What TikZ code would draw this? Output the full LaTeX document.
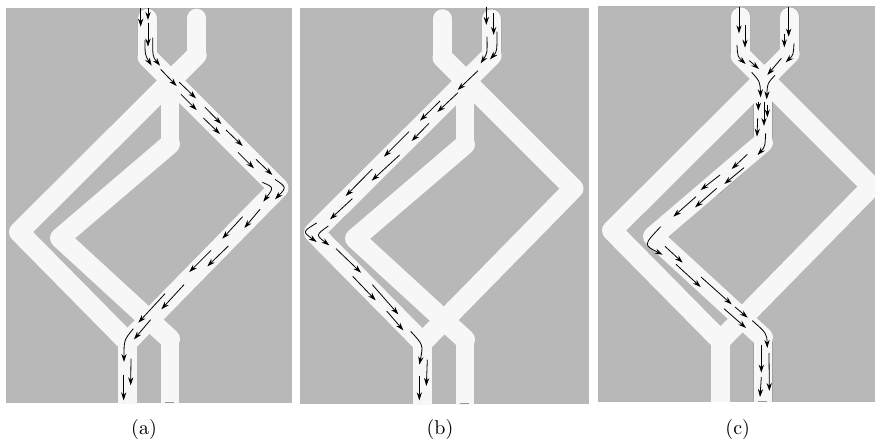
\documentclass[tikz,border=0pt]{standalone}
\usetikzlibrary{arrows.meta}
\definecolor{panelgray}{HTML}{B8B8B8}
\definecolor{channel}{HTML}{F7F7F7}
\tikzset{
  panel/.style={fill=panelgray,draw=none},
  chan/.style={draw=channel,line width=20pt,line join=round,line cap=round},
  stem/.style={draw=channel,line width=18.5pt,line cap=round},
  rim/.style={draw=black!42,line width=19.3pt,line join=round,line cap=round},
  flow/.style={black,line width=0.8pt,-{Stealth[length=8pt,width=5.2pt]}},
  zoomed/.style={x=0.33333pt,y=-0.33333pt},
  captext/.style={scale=2,inner sep=0pt},
  basegrid/.style={x=1pt,y=-1pt},
  tick/.style={draw=black!40,line width=0.7pt}
}
\newcommand{\network}{%
  \draw[stem] (147.5,18)--(147.5,57);
  \draw[stem] (196.7,18)--(196.7,55);
  \draw[stem] (127.5,342)--(127.5,425);
  \draw[stem] (170,80)--(170,144);
  \draw[stem] (170,339)--(170,425);
  \draw[chan] (147.5,57)--(278.5,188)--(127.5,342);
  \draw[chan] (196.7,55)--(19,232)--(127.5,342);
  \draw[chan] (170,144)--(60,238)--(170,339);
}
\begin{document}
\begin{tikzpicture}[basegrid]
\useasboundingbox (0,0) rectangle (878,447);
% panel a
\fill[panel] (6,8) rectangle (292,403);
\begin{scope}
  \clip (6,8) rectangle (292,403);
  \draw[rim] (147.5,18)--(147.5,57)--(168,77);
  \network
  \draw[tick] (165,402.4)--(174,402.4);
\end{scope}
\begin{scope}[zoomed]
\draw[flow] (422,24)--(422,80);
\draw[flow] (444,24)--(444,60);
\draw[flow] (444,68)--(444,140);
\draw[flow] (435,120) .. controls (435,165) .. (455,197);
\draw[flow] (458,113) .. controls (458,170) .. (480,197);
\draw[flow] (482,208)--(530,258);
\draw[flow] (538,247)--(588,295);
\draw[flow] (543,283)--(590,330);
\draw[flow] (615,322)--(664,372);
\draw[flow] (610,354)--(660,402);
\draw[flow] (678,390)--(728,438);
\draw[flow] (714,457)--(762,505);
\draw[flow] (768,478)--(817,525);
\draw[flow] (787,547) .. controls (822,562) .. (790,605);
\draw[flow] (825,538) .. controls (860,562) .. (825,598);
\draw[flow] (780,628)--(733,684);
\draw[flow] (728,650)--(667,716);
\draw[flow] (633,751)--(568,816);
\draw[flow] (685,738)--(622,799);
\draw[flow] (552,854)--(484,928);
\draw[flow] (495,881)--(415,968);
\draw[flow] (452,959)--(402,1018);
\draw[flow] (400,986) .. controls (372,1020) .. (372,1086);
\draw[flow] (393,1076)--(392,1156);
\draw[flow] (371,1124)--(371,1201);
\end{scope}
\node[captext] (capa) at (144,429) {(a)};
% panel b
\fill[panel] (300,8) rectangle (589,404);
\begin{scope}[shift={(295pt,-0.5pt)}]
  \clip (5,7.5) rectangle (294,403.5);
  \draw[rim] (196.7,18)--(196.7,55)--(176,76);
  \network
  \draw[tick] (165,402.9)--(174,402.9);
\end{scope}
\begin{scope}[zoomed,shift={(295pt,0pt)}]
\draw[flow] (574,20)--(574,75);
\draw[flow] (596,40)--(596,105);
\draw[flow] (576,110) .. controls (577,160) .. (557,190);
\draw[flow] (606,95) .. controls (606,155) .. (585,178);
\draw[flow] (549,212)--(488,270);
\draw[flow] (489,278)--(427,336);
\draw[flow] (435,303)--(375,362);
\draw[flow] (402,370)--(350,423);
\draw[flow] (342,395)--(267,470);
\draw[flow] (314,465)--(230,542);
\draw[flow] (232,507)--(152,588);
\draw[flow] (172,596)--(105,658);
\draw[flow] (65,669) .. controls (22,695) .. (65,726);
\draw[flow] (100,678) .. controls (62,705) .. (103,736);
\draw[flow] (123,746)--(198,818);
\draw[flow] (173,829)--(242,901);
\draw[flow] (232,854)--(310,943);
\draw[flow] (275,933)--(325,991);
\draw[flow] (347,994) .. controls (385,1035) .. (373,1094);
\draw[flow] (397,1079)--(394,1158);
\draw[flow] (373,1128)--(373,1201);
\end{scope}
\node[captext] (capb) at (440,429) {(b)};
% panel c
\fill[panel] (598,6) rectangle (875,401.5);
\begin{scope}[shift={(593pt,1.5pt)}]
  \clip (5,7.5) rectangle (282,403);
  \draw[rim] (147.5,18)--(147.5,57)--(170,80)--(170,144)--(120,188);
  \draw[rim] (196.7,18)--(196.7,55)--(170,80);
  \draw[rim] (150,321)--(170,339)--(170,425);
  \network
  \draw[tick] (165,402.4)--(174,402.4);
\end{scope}
\begin{scope}[zoomed,shift={(590pt,0pt)}]
\draw[flow] (447,20)--(447,100);
\draw[flow] (596,20)--(596,110);
\draw[flow] (465,75)--(465,143);
\draw[flow] (583,102)--(583,142);
\draw[flow] (441,135) .. controls (443,170) .. (467,192);
\draw[flow] (612,130) .. controls (610,165) .. (587,187);
\draw[flow] (478,182)--(507,207);
\draw[flow] (574,175)--(532,225);
\draw[flow] (485,217) .. controls (510,245) .. (512,292);
\draw[flow] (555,226) .. controls (532,250) .. (530,298);
\draw[flow] (505,305)--(505,332);
\draw[flow] (532,315)--(532,352);
\draw[flow] (522,305)--(522,378);
\draw[flow] (503,355)--(501,410);
\draw[flow] (527,400) .. controls (525,440) .. (503,465);
\draw[flow] (472,463)--(425,507);
\draw[flow] (462,503)--(403,552);
\draw[flow] (390,525)--(332,570);
\draw[flow] (380,565)--(315,622);
\draw[flow] (318,590)--(250,650);
\draw[flow] (212,680) .. controls (160,735) .. (218,764);
\draw[flow] (225,739)--(278,788);
\draw[flow] (258,793)--(332,861);
\draw[flow] (333,831)--(425,913);
\draw[flow] (402,926)--(468,984);
\draw[flow] (435,921)--(473,953);
\draw[flow] (487,962) .. controls (530,1000) .. (532,1044);
\draw[flow] (514,1034)--(514,1118);
\draw[flow] (537,1059)--(538,1173);
\draw[flow] (514,1131)--(510,1191);
\end{scope}
\node[captext] (capc) at (737.7,429) {(c)};
\end{tikzpicture}
\end{document}
